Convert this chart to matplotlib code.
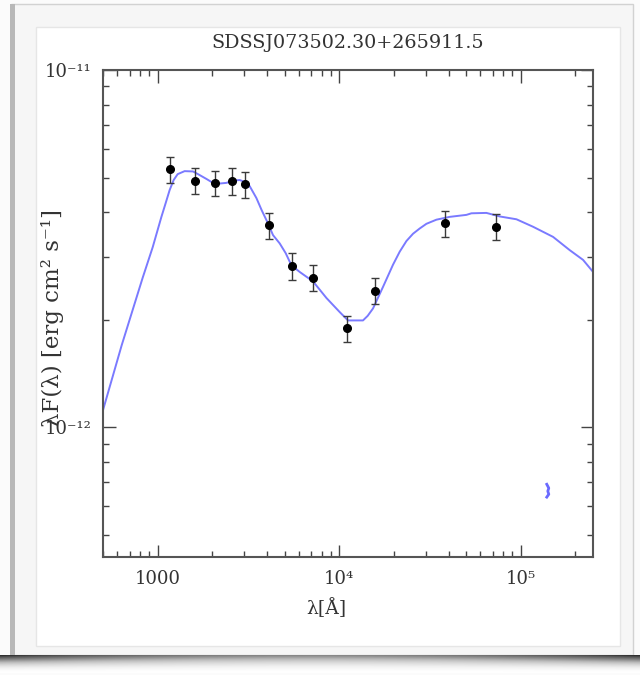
import numpy as np
import matplotlib
matplotlib.use("Agg")
import matplotlib.pyplot as plt
from matplotlib.patches import Rectangle
from matplotlib.ticker import LogLocator, NullFormatter

title = "SDSSJ073502.30+265911.5"

# photometric points: wavelength [A], lambda*F [1e-12 erg cm^-2 s^-1]
phot_lam = [1175, 1606, 2080, 2559, 3016, 4103, 5495, 7211, 11040, 15720, 38460, 73100]
phot_flux = [5.28, 4.90, 4.83, 4.89, 4.78, 3.68, 2.83, 2.62, 1.89, 2.41, 3.72, 3.64]
phot_err = [0.44, 0.41, 0.40, 0.41, 0.40, 0.31, 0.24, 0.22, 0.16, 0.20, 0.31, 0.30]

# model SED
model_lam = [500, 634, 826, 939, 1048, 1107, 1164, 1225, 1289, 1408,
             1565, 1703, 1862, 2017, 2196, 2391, 2599, 2830, 3015, 3213,
             3499, 3741, 4053, 4318, 4701, 5073, 5452, 6059, 7171, 8503,
             10065, 11181, 12328, 13524, 14355, 15357, 17428, 19787, 21544, 23455,
             25505, 27768, 30225, 34313, 40626, 50210, 53500, 64710, 76630, 94690,
             116900, 150660, 186200, 220400, 250300]
model_flux = [1.116, 1.697, 2.615, 3.19, 3.875, 4.24, 4.61, 4.92, 5.11, 5.21,
              5.20, 5.08, 4.95, 4.83, 4.81, 4.83, 4.90, 4.92, 4.86, 4.73,
              4.38, 4.05, 3.72, 3.45, 3.27, 3.07, 2.84, 2.72, 2.56, 2.30,
              2.10, 1.99, 1.99, 1.99, 2.05, 2.15, 2.47, 2.85, 3.10, 3.32,
              3.48, 3.60, 3.71, 3.81, 3.88, 3.93, 3.97, 3.98, 3.89, 3.82,
              3.64, 3.41, 3.13, 2.94, 2.72]

# small blue mark in the lower right
stray_lam = [139100, 142700, 140900, 142700, 139100]
stray_flux = [0.692, 0.675, 0.662, 0.649, 0.637]

W, H = 640, 675
plt.rcParams['font.family'] = ['DejaVu Serif']
fig = plt.figure(figsize=(W / 100, H / 100), dpi=100, facecolor='#fbfbfb')


def box(x0, y0, x1, y1, **kw):
    # rectangle given in pixels from the top left corner
    r = Rectangle((x0 / W, 1 - y1 / H), (x1 - x0) / W, (y1 - y0) / H,
                  transform=fig.transFigure, zorder=-5, **kw)
    fig.patches.append(r)


# screenshot frame
box(11, 4, 633, 655, facecolor='#f6f6f6', edgecolor='#d2d2d2', lw=1)
box(10, 4, 15, 655, facecolor='#b8b8b8', edgecolor='none')
box(36, 27, 620, 646, facecolor='white', edgecolor='#e6e6e6', lw=1)

# bottom shadow
sh = fig.add_axes([0, 1 - 673 / H, 1, 18 / H])
gx = np.linspace(-1, 1, 200)
gy = np.linspace(0, 1, 20)
shade = (0.55 + 0.3 * gx[None, :] ** 2) * (1 - gy[:, None]) ** 1.5
sh.imshow(shade, cmap='Greys', vmin=0, vmax=1, aspect='auto', extent=(0, 1, 1, 0))
sh.axis('off')

ax = fig.add_axes([103 / W, 1 - 557 / H, 490 / W, 487 / H])
ax.set_facecolor('white')
ax.set_xscale('log')
ax.set_yscale('log')

ax.plot(model_lam, np.array(model_flux) * 1e-12, color='#7a7aff', lw=1.4)
ax.plot(stray_lam, np.array(stray_flux) * 1e-12, color='#6a6aff', lw=2)
ax.errorbar(phot_lam, np.array(phot_flux) * 1e-12, yerr=np.array(phot_err) * 1e-12,
            fmt='o', color='black', ms=5.5, ecolor='#3a3a3a', elinewidth=1,
            capsize=2.8, capthick=1)

ax.set_xlim(500, 2.5e5)
ax.set_ylim(4.33e-13, 1e-11)

ax.set_xticks([1000, 1e4, 1e5])
ax.set_xticklabels(['1000', '10\u2074', '10\u2075'])
ax.xaxis.set_minor_locator(LogLocator(base=10, subs=np.arange(2, 10)))
ax.xaxis.set_minor_formatter(NullFormatter())
ax.set_yticks([1e-12, 1e-11])
ax.set_yticklabels(['10\u207b\u00b9\u00b2', '10\u207b\u00b9\u00b9'])
ax.yaxis.set_minor_locator(LogLocator(base=10, subs=np.arange(2, 10)))
ax.yaxis.set_minor_formatter(NullFormatter())

ax.tick_params(which='both', direction='in', top=True, right=True,
               color='#444444', width=1, labelsize=13, labelcolor='#333333')
ax.tick_params(which='major', length=9)
ax.tick_params(which='minor', length=4.5)
ax.tick_params(axis='x', pad=9)
ax.tick_params(axis='y', pad=8)
for s in ax.spines.values():
    s.set_color('#555555')
    s.set_linewidth(1.5)

ax.set_title(title, fontsize=13.8, color='#333333', pad=16)
ax.text(0.455, -0.105, '\u03bb[\u00c5]', transform=ax.transAxes,
        ha='center', va='center', fontsize=13.5, color='#333333')
ax.text(-0.104, 0.491, '\u03bbF(\u03bb) [erg cm\u00b2 s\u207b\u00b9]', transform=ax.transAxes,
        rotation=90, ha='center', va='center', fontsize=16.5, color='#333333')

fig.savefig('out.png', dpi=100, facecolor=fig.get_facecolor())
